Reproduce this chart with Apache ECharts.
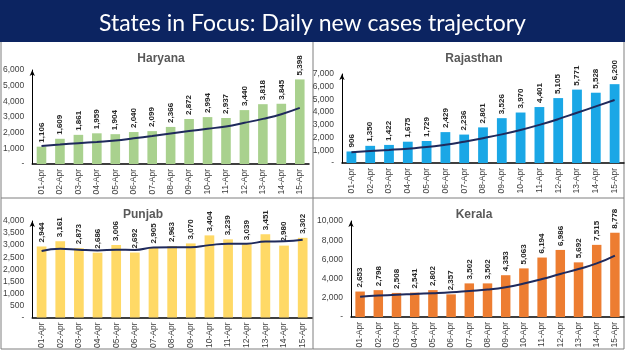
<!DOCTYPE html>
<html>
<head>
<meta charset="utf-8">
<script src="https://cdn.jsdelivr.net/npm/echarts@6/dist/echarts.min.js"></script>
<style>
html, body { margin: 0; padding: 0; background: #fff; }
#main { width: 625px; height: 351px; }
</style>
</head>
<body>
<div id="main"></div>
<script>
var days = ['01-Apr', '02-Apr', '03-Apr', '04-Apr', '05-Apr', '06-Apr', '07-Apr', '08-Apr',
    '09-Apr', '10-Apr', '11-Apr', '12-Apr', '13-Apr', '14-Apr', '15-Apr'];

var haryana = [1106, 1609, 1861, 1959, 1904, 2040, 2099, 2366, 2872, 2994, 2937, 3440, 3818, 3845, 5398];
var haryanaTrend = [1150, 1240, 1330, 1410, 1500, 1640, 1790, 1950, 2100, 2250, 2400, 2630, 2880, 3180, 3580];

var rajasthan = [906, 1350, 1422, 1675, 1729, 2429, 2236, 2801, 3526, 3970, 4401, 5105, 5771, 5528, 6200];
var rajasthanTrend = [850, 940, 1030, 1130, 1250, 1440, 1680, 1950, 2250, 2600, 3000, 3450, 3950, 4450, 4950];

var punjab = [2944, 3161, 2873, 2686, 3006, 2692, 2905, 2963, 3070, 3404, 3239, 3039, 3451, 2980, 3302];
var punjabTrend = [2760, 2850, 2810, 2780, 2810, 2800, 2900, 2910, 2910, 3000, 3060, 3060, 3150, 3160, 3220];

var kerala = [2653, 2798, 2508, 2541, 2802, 2357, 3502, 3502, 4353, 5063, 6194, 6986, 5692, 7515, 8778];
var keralaTrend = [2100, 2230, 2330, 2400, 2480, 2580, 2720, 2860, 3100, 3480, 3950, 4480, 5000, 5580, 6400];

var myChart = echarts.init(document.getElementById('main'));

var panels = [
    { name: 'Haryana', data: haryana, trend: haryanaTrend, color: '#a9d18e', max: 6000, step: 1000,
      grid: { left: 30, width: 279, top: 70, height: 94 }, tx: 156, ty: 48 },
    { name: 'Rajasthan', data: rajasthan, trend: rajasthanTrend, color: '#1aa7e6', max: 7000, step: 1000,
      grid: { left: 342, width: 282, top: 74, height: 89 }, tx: 469, ty: 48 },
    { name: 'Punjab', data: punjab, trend: punjabTrend, color: '#ffd966', max: 4000, step: 500,
      grid: { left: 30, width: 282, top: 221, height: 97 }, tx: 138, ty: 204 },
    { name: 'Kerala', data: kerala, trend: keralaTrend, color: '#ed7d31', max: 10000, step: 2000,
      grid: { left: 351, width: 273, top: 221, height: 96 }, tx: 469, ty: 204 }
];

function fmt(v) {
    return v === 0 ? '-' : v.toLocaleString('en-US');
}

var titles = [{
    text: 'States in Focus: Daily new cases trajectory',
    left: 'center', top: 7,
    textStyle: { color: '#fff', fontSize: 23, fontWeight: 'normal', fontFamily: 'Lato' }
}];
var grids = [], xAxes = [], yAxes = [], series = [];

panels.forEach(function (p, i) {
    titles.push({
        text: p.name, left: p.tx, top: p.ty, textAlign: 'center',
        textStyle: { color: '#595959', fontSize: 12, fontWeight: 'bold', fontFamily: 'Liberation Sans' }
    });
    grids.push(p.grid);
    xAxes.push({
        type: 'category', gridIndex: i, data: days,
        axisLine: { lineStyle: { color: '#000', width: 1.5 } },
        axisTick: { show: false },
        axisLabel: { rotate: 90, fontSize: 8.5, color: '#404040', margin: 5, fontFamily: 'Liberation Sans' }
    });
    yAxes.push({
        type: 'value', gridIndex: i, min: 0, max: p.max, interval: p.step,
        splitLine: { show: false },
        axisLine: { show: true, lineStyle: { color: '#000', width: 1 },
            symbol: ['none', 'arrow'], symbolSize: [4, 6] },
        axisTick: { show: false },
        axisLabel: { fontSize: 8.5, color: '#404040', margin: 8, fontFamily: 'Liberation Sans', formatter: fmt }
    });
    series.push({
        type: 'bar', xAxisIndex: i, yAxisIndex: i, data: p.data, barWidth: '52%',
        itemStyle: { color: p.color },
        label: {
            show: true, position: 'top', rotate: 90, align: 'left', verticalAlign: 'middle',
            distance: 4, fontSize: 8, fontWeight: 'bold', color: '#262626', fontFamily: 'Liberation Sans',
            formatter: function (d) { return fmt(d.value); }
        }
    });
    series.push({
        type: 'line', xAxisIndex: i, yAxisIndex: i, data: p.trend, smooth: true,
        symbol: 'none', lineStyle: { color: '#1f2a5c', width: 2 }, z: 5
    });
});

var option = {
    backgroundColor: '#fff',
    animation: false,
    title: titles,
    grid: grids,
    xAxis: xAxes,
    yAxis: yAxes,
    series: series,
    graphic: [
        { type: 'rect', shape: { x: 0, y: 0, width: 625, height: 42 }, style: { fill: '#0c2461' }, z: -1 },
        { type: 'polyline', shape: { points: [[1, 42], [1, 349], [624, 349], [624, 42]] },
          style: { stroke: '#7f7f7f', lineWidth: 1, fill: null } },
        { type: 'line', shape: { x1: 313, y1: 42, x2: 313, y2: 349 }, style: { stroke: '#7f7f7f', lineWidth: 1 } },
        { type: 'line', shape: { x1: 1, y1: 198, x2: 624, y2: 198 }, style: { stroke: '#7f7f7f', lineWidth: 1 } }
    ]
};

myChart.setOption(option);
</script>
</body>
</html>
